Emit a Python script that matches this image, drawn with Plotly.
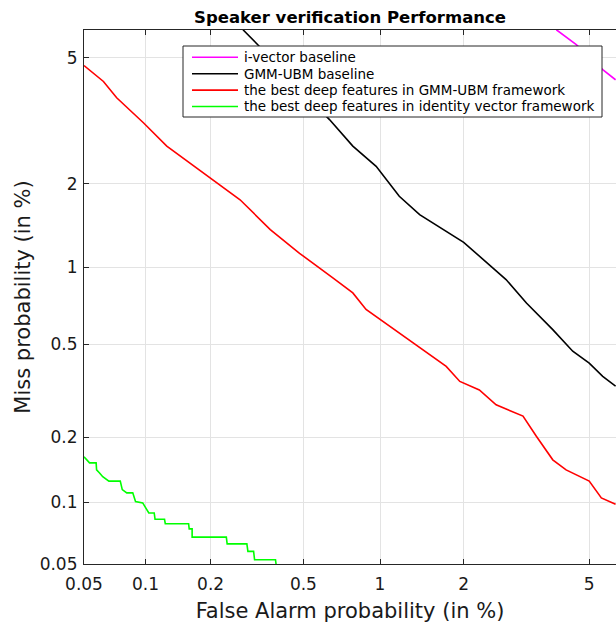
from statistics import NormalDist
import plotly.graph_objects as go

# ---- data (values in %) ----
tick_vals = [0.05, 0.1, 0.2, 0.5, 1, 2, 5]
tick_text = ["0.05", "0.1", "0.2", "0.5", "1", "2", "5"]

ivector_fa = [3.99, 4.58, 5.47, 5.95]
ivector_miss = [6.02, 5.46, 4.62, 4.31]

gmm_fa = [0.278, 0.322, 0.637, 0.787, 0.967, 1.18, 1.40, 2.0, 2.77, 3.22, 3.89, 4.47, 5.0, 5.47, 5.95]
gmm_miss = [6.02, 5.46, 3.25, 2.67, 2.29, 1.81, 1.56, 1.24, 0.90, 0.731, 0.573, 0.468, 0.418, 0.368, 0.334]

deep_gmm_fa = [0.05, 0.0625, 0.0726, 0.098, 0.126, 0.2, 0.27, 0.364, 0.482, 0.657, 0.787, 0.885,
               1.18, 1.44, 1.74, 1.94, 2.26, 2.57, 3.14, 3.46, 3.89, 4.27, 5.0, 5.42, 5.95]
deep_gmm_miss = [4.75, 4.26, 3.80, 3.17, 2.67, 2.09, 1.76, 1.38, 1.13, 0.914, 0.80, 0.689,
                 0.556, 0.475, 0.405, 0.35, 0.322, 0.278, 0.248, 0.202, 0.158, 0.142, 0.126, 0.105, 0.098]

deep_iv_fa = [0.05, 0.0533, 0.0575, 0.0578, 0.0598, 0.062, 0.0665, 0.0756, 0.0773, 0.0813, 0.0869,
              0.0896, 0.097, 0.1, 0.1037, 0.110, 0.111, 0.123, 0.124, 0.159, 0.160, 0.165, 0.165,
              0.235, 0.237, 0.289, 0.292, 0.309, 0.312, 0.383, 0.385]
deep_iv_miss = [0.163, 0.153, 0.153, 0.142, 0.1375, 0.132, 0.126, 0.126, 0.115, 0.111, 0.111,
                0.101, 0.0995, 0.094, 0.089, 0.089, 0.083, 0.083, 0.079, 0.079, 0.0746, 0.0746, 0.068,
                0.068, 0.063, 0.063, 0.0578, 0.0578, 0.0525, 0.0525, 0.05]

nd = NormalDist()


def probit(vals):
    return [nd.inv_cdf(v / 100.0) for v in vals]


series = [
    ("i-vector baseline", ivector_fa, ivector_miss, "#ff00ff"),
    ("GMM-UBM baseline", gmm_fa, gmm_miss, "#000000"),
    ("the best deep features in GMM-UBM framework", deep_gmm_fa, deep_gmm_miss, "#ff0000"),
    ("the best deep features in identity vector framework", deep_iv_fa, deep_iv_miss, "#00ff00"),
]

fig = go.Figure()
for name, fa, miss, col in series:
    fig.add_trace(go.Scatter(x=probit(fa), y=probit(miss), mode="lines", name=name,
                             line=dict(color=col, width=1.6), showlegend=False))

W, H = 616, 628
ml, mr, mt, mb = 84, 0, 30, 64
PW, PH = W - ml - mr, H - mt - mb
px_per_unit_x = 307.0
px_per_unit_y = 307.5
x0 = nd.inv_cdf(0.0005)
y0 = nd.inv_cdf(0.0005)
x1 = x0 + PW / px_per_unit_x
y1 = y0 + PH / px_per_unit_y

FONT = "DejaVu Sans"
axis_common = dict(
    tickvals=probit(tick_vals), ticktext=tick_text,
    showgrid=True, gridcolor="#e3e3e3", gridwidth=1,
    showline=True, linecolor="#262626", linewidth=1.2,
    ticks="inside", ticklen=5, tickcolor="#262626", tickwidth=1,
    tickfont=dict(family=FONT, size=17, color="#1a1a1a"),
    zeroline=False,
)
fig.update_xaxes(range=[x0, x1], mirror="ticks", ticklabelstandoff=4,
                 title=dict(text="False Alarm probability (in %)", standoff=10,
                            font=dict(family=FONT, size=21, color="#1a1a1a")),
                 **axis_common)
fig.update_yaxes(range=[y0, y1], mirror=False, ticklabelstandoff=2,
                 title=dict(text="Miss probability (in %)", standoff=3,
                            font=dict(family=FONT, size=21, color="#1a1a1a")),
                 **axis_common)


# ---- legend drawn as a box with line samples and text (pixel layout -> paper coords) ----
def fx(px):
    return (px - ml) / PW


def fy(py):
    return 1 - (py - mt) / PH


shapes = [dict(type="rect", xref="paper", yref="paper", x0=fx(183), x1=fx(602), y0=fy(117), y1=fy(46),
               line=dict(color="#262626", width=1), fillcolor="white", layer="above")]
annotations = []
row_y = [57.3, 73.7, 90.1, 106.5]
for (name, _, _, col), ry in zip(series, row_y):
    shapes.append(dict(type="line", xref="paper", yref="paper", x0=fx(192), x1=fx(238), y0=fy(ry), y1=fy(ry),
                       line=dict(color=col, width=1.6), layer="above"))
    annotations.append(dict(text=name, xref="paper", yref="paper", x=fx(242), y=fy(ry),
                            xanchor="left", yanchor="middle", showarrow=False,
                            font=dict(family=FONT, size=13.5, color="#000000")))

fig.update_layout(
    width=W, height=H,
    margin=dict(l=ml, r=mr, t=mt, b=mb),
    paper_bgcolor="white", plot_bgcolor="white",
    title=dict(text="<b>Speaker verification Performance</b>", x=(ml + W) / 2 / W, xanchor="center",
               y=1 - 17 / H, yanchor="middle",
               font=dict(family=FONT, size=16.5, color="#000000")),
    shapes=shapes, annotations=annotations,
    showlegend=False,
)

fig.write_html("out.html", config={"displayModeBar": False},
               post_script="document.body.style.margin='0';document.body.style.overflow='hidden';")
